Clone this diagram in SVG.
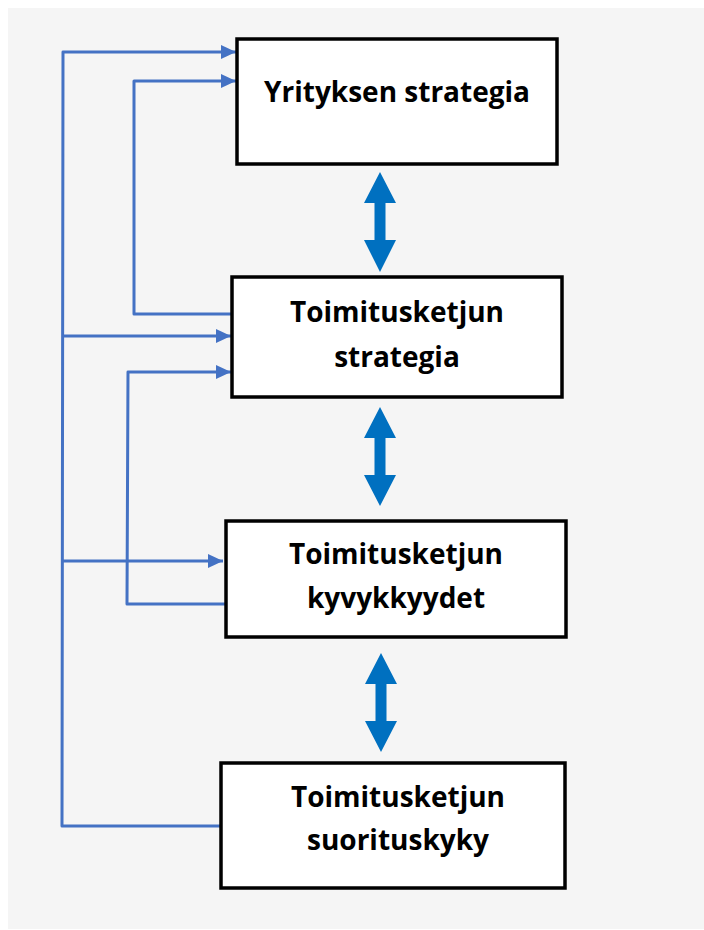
<svg xmlns="http://www.w3.org/2000/svg" width="704" height="930" viewBox="0 0 704 930">
<style>
.box{fill:#ffffff;stroke:#000000;stroke-width:3.5}
.lbl{font-family:"Open Sans","Noto Sans","DejaVu Sans",sans-serif;font-weight:bold;font-size:28px;fill:#000000;text-anchor:middle}
.conn{fill:none;stroke:#4472C4;stroke-width:3;stroke-linejoin:round}
.dbl{fill:#0070C0}
</style>
<defs>
<marker id="ah" viewBox="0 0 15 14" refX="15" refY="7" markerWidth="15" markerHeight="14" markerUnits="userSpaceOnUse" orient="auto">
<path d="M0,0 L15,7 L0,14 Z" fill="#4472C4"/>
</marker>
</defs>
<rect x="8" y="8" width="696" height="921" fill="#f5f5f5"/>
<g id="connectors">
<path class="conn" d="M221,826 L62,826 L63,52 L236,52" marker-end="url(#ah)"/>
<path class="conn" d="M63,336 L231,336" marker-end="url(#ah)"/>
<path class="conn" d="M63,561 L223,561" marker-end="url(#ah)"/>
<path class="conn" d="M232,314 L134,314 L134,81 L236,81" marker-end="url(#ah)"/>
<path class="conn" d="M226,604 L127,604 L128,372 L231,372" marker-end="url(#ah)"/>
<polygon class="dbl" points="380,172 396,203 385.5,203 385.5,240 396,240 380,272 364,240 374.5,240 374.5,203 364,203"/>
<polygon class="dbl" points="380,407 396,438 385.5,438 385.5,475 396,475 380,506 364,475 374.5,475 374.5,438 364,438"/>
<polygon class="dbl" points="381,653 397,684 386.5,684 386.5,721 397,721 381,752 365,721 375.5,721 375.5,684 365,684"/>
</g>
<g id="node1">
<rect class="box" x="237" y="39" width="320" height="125"/>
<text class="lbl" x="397" y="102">Yrityksen strategia</text>
</g>
<g id="node2">
<rect class="box" x="232" y="277" width="330" height="120"/>
<text class="lbl" x="397" y="322">Toimitusketjun</text>
<text class="lbl" x="397" y="367">strategia</text>
</g>
<g id="node3">
<rect class="box" x="226" y="521" width="340" height="116"/>
<text class="lbl" x="396" y="564">Toimitusketjun</text>
<text class="lbl" x="396" y="608">kyvykkyydet</text>
</g>
<g id="node4">
<rect class="box" x="221" y="763" width="344" height="125"/>
<text class="lbl" x="398" y="807">Toimitusketjun</text>
<text class="lbl" x="398" y="850">suorituskyky</text>
</g>
</svg>
